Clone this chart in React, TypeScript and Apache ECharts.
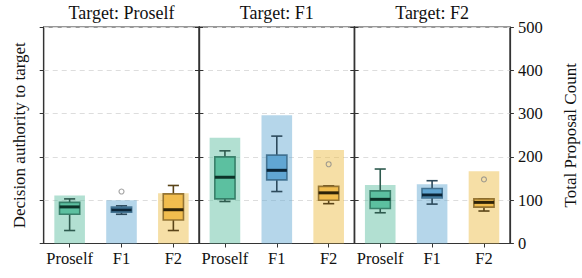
import React, { useEffect, useRef } from "react";
import * as echarts from "echarts";

const panelTitles = ["Target: Proself", "Target: F1", "Target: F2"];
const categories = ["Proself", "F1", "F2"];
const countTicks = [0, 100, 200, 300, 400, 500];

// Total proposal counts per panel (right axis)
const countsProself = [111, 100, 116];
const countsF1 = [244, 296, 216];
const countsF2 = [135, 137, 167];

// Decision authority box stats per panel: [min, q1, median, q3, max] (left axis)
const boxProself = [
  [0.3, 0.675, 0.845, 0.95, 1.03],
  [0.675, 0.72, 0.775, 0.84, 0.87],
  [0.3, 0.544, 0.78, 1.145, 1.34],
];
const boxF1 = [
  [0.97, 1.03, 1.53, 2.0, 2.14],
  [1.2, 1.47, 1.69, 2.04, 2.48],
  [0.92, 1.0, 1.17, 1.32, 1.33],
];
const boxF2 = [
  [0.71, 0.81, 1.02, 1.215, 1.72],
  [0.91, 1.05, 1.12, 1.27, 1.45],
  [0.75, 0.84, 0.95, 1.03, 1.03],
];

// Outliers: [categoryIndex, value]
const outProself = [[1, 1.2]];
const outF1 = [[2, 1.83]];
const outF2 = [[2, 1.48]];

const counts = [countsProself, countsF1, countsF2];
const boxes = [boxProself, boxF1, boxF2];
const outliers = [outProself, outF1, outF2];

const barColors = ["#66c2a5", "#6baed6", "#edbf4d"];
const boxFill = ["#55bd9b", "#5aa2d0", "#f0ba47"];
const boxEdge = ["#327a64", "#3d6d8c", "#8c6c2c"];
const medianColor = ["#0c3328", "#0b2537", "#2e2308"];
const whiskerColor = ["#2e5a4e", "#2d4a5c", "#5a4418"];

const FONT = "Liberation Serif";
const AX = "#333333";

const gridLefts = [43.7, 199, 354.3];
const gridWidth = 155.6;
const gridTop = 27;
const gridHeight = 216.5;

export default function App() {
  const ref = useRef<HTMLDivElement>(null);
  useEffect(() => {
    if (!ref.current) return;
    const chart = echarts.init(ref.current, null, { renderer: "svg" });

    const grids: any[] = [];
    const xAxes: any[] = [];
    const yAxes: any[] = [];
    const series: any[] = [];

    for (let p = 0; p < 3; p++) {
      grids.push({
        left: gridLefts[p],
        top: gridTop,
        width: gridWidth,
        height: gridHeight,
        containLabel: false,
        outerBoundsMode: "none",
        show: true,
        borderColor: AX,
        borderWidth: 1.2,
        backgroundColor: "transparent",
      });
      xAxes.push({
        type: "category",
        gridIndex: p,
        data: categories,
        boundaryGap: true,
        axisLine: { show: true, lineStyle: { color: AX, width: 1.2 } },
        axisTick: { show: true, alignWithLabel: true, length: 4, lineStyle: { color: AX } },
        axisLabel: {
          show: true,
          interval: 0,
          hideOverlap: false,
          color: "#111",
          fontFamily: FONT,
          fontSize: 16.5,
          margin: 6,
        },
        splitLine: { show: false },
      });
      // top axis used only to carry the panel title
      xAxes.push({
        type: "category",
        gridIndex: p,
        position: "top",
        data: categories,
        name: panelTitles[p],
        nameLocation: "middle",
        nameGap: 5,
        nameTextStyle: { fontFamily: FONT, fontSize: 18, color: "#111" },
        axisLine: { show: false },
        axisTick: { show: false },
        axisLabel: { show: false },
        splitLine: { show: false },
      });
      // left axis: decision authority
      yAxes.push({
        type: "value",
        gridIndex: p,
        position: "left",
        min: 0,
        max: 5,
        interval: 1,
        name: p === 0 ? "Decision authority to target" : "",
        nameLocation: "middle",
        nameGap: 16,
        nameRotate: 90,
        nameTextStyle: { fontFamily: FONT, fontSize: 17, color: "#111" },
        axisLine: { show: true, lineStyle: { color: AX, width: 1.2 } },
        axisTick: { show: true, length: 4, lineStyle: { color: AX } },
        axisLabel: { show: false },
        splitLine: { show: false },
      });
      // right axis: total proposal count
      yAxes.push({
        type: "value",
        gridIndex: p,
        position: "right",
        min: countTicks[0],
        max: countTicks[countTicks.length - 1],
        interval: 100,
        name: p === 2 ? "Total Proposal Count" : "",
        nameLocation: "middle",
        nameGap: 52,
        nameRotate: 90,
        nameTextStyle: { fontFamily: FONT, fontSize: 17, color: "#111" },
        axisLine: { show: true, lineStyle: { color: AX, width: 1.2 } },
        axisTick: { show: true, length: 4, lineStyle: { color: AX } },
        axisLabel: {
          show: p === 2,
          color: "#111",
          fontFamily: FONT,
          fontSize: 16.5,
          margin: 8,
        },
        splitLine: {
          show: true,
          lineStyle: { color: "#dddddd", type: [5, 4], width: 1 },
        },
      });

      const xIdx = p * 2;
      const leftIdx = p * 2;
      const rightIdx = p * 2 + 1;

      series.push({
        type: "bar",
        xAxisIndex: xIdx,
        yAxisIndex: rightIdx,
        barWidth: "59%",
        silent: true,
        z: 1,
        data: counts[p].map((v, ci) => ({
          value: v,
          itemStyle: { color: barColors[ci], opacity: 0.5 },
        })),
      });

      series.push({
        type: "custom",
        xAxisIndex: xIdx,
        yAxisIndex: leftIdx,
        silent: true,
        z: 3,
        encode: { x: 0, y: [1, 2, 3, 4, 5] },
        data: boxes[p].map((b, ci) => [ci, ...b]),
        renderItem: (params: any, api: any) => {
          const ci = api.value(0);
          const pMin = api.coord([ci, api.value(1)]);
          const pQ1 = api.coord([ci, api.value(2)]);
          const pMed = api.coord([ci, api.value(3)]);
          const pQ3 = api.coord([ci, api.value(4)]);
          const pMax = api.coord([ci, api.value(5)]);
          const band = api.size([1, 0])[0];
          const bw = band * 0.39;
          const cw = bw * 0.55;
          const x = pMin[0];
          const wc = whiskerColor[ci];
          const ws = { stroke: wc, lineWidth: 1.6 };
          return {
            type: "group",
            children: [
              { type: "line", shape: { x1: x, y1: pMin[1], x2: x, y2: pQ1[1] }, style: ws },
              { type: "line", shape: { x1: x, y1: pQ3[1], x2: x, y2: pMax[1] }, style: ws },
              { type: "line", shape: { x1: x - cw / 2, y1: pMin[1], x2: x + cw / 2, y2: pMin[1] }, style: ws },
              { type: "line", shape: { x1: x - cw / 2, y1: pMax[1], x2: x + cw / 2, y2: pMax[1] }, style: ws },
              {
                type: "rect",
                shape: { x: x - bw / 2, y: pQ3[1], width: bw, height: pQ1[1] - pQ3[1] },
                style: { fill: boxFill[ci], stroke: boxEdge[ci], lineWidth: 1.6, opacity: 0.92 },
              },
              {
                type: "line",
                shape: { x1: x - bw / 2, y1: pMed[1], x2: x + bw / 2, y2: pMed[1] },
                style: { stroke: medianColor[ci], lineWidth: 3 },
              },
            ],
          };
        },
      });

      series.push({
        type: "scatter",
        xAxisIndex: xIdx,
        yAxisIndex: leftIdx,
        silent: true,
        z: 4,
        symbol: "circle",
        symbolSize: 5,
        itemStyle: { color: "rgba(255,255,255,0)", borderColor: "#888888", borderWidth: 1.1 },
        data: outliers[p],
      });
    }

    chart.setOption({
      animation: false,
      backgroundColor: "#ffffff",
      textStyle: { fontFamily: FONT },
      grid: grids,
      xAxis: xAxes,
      yAxis: yAxes,
      series,
    });
    return () => chart.dispose();
  }, []);

  return (
    <div
      ref={ref}
      style={{ position: "fixed", left: 0, top: 0, width: 582, height: 278 }}
    />
  );
}
